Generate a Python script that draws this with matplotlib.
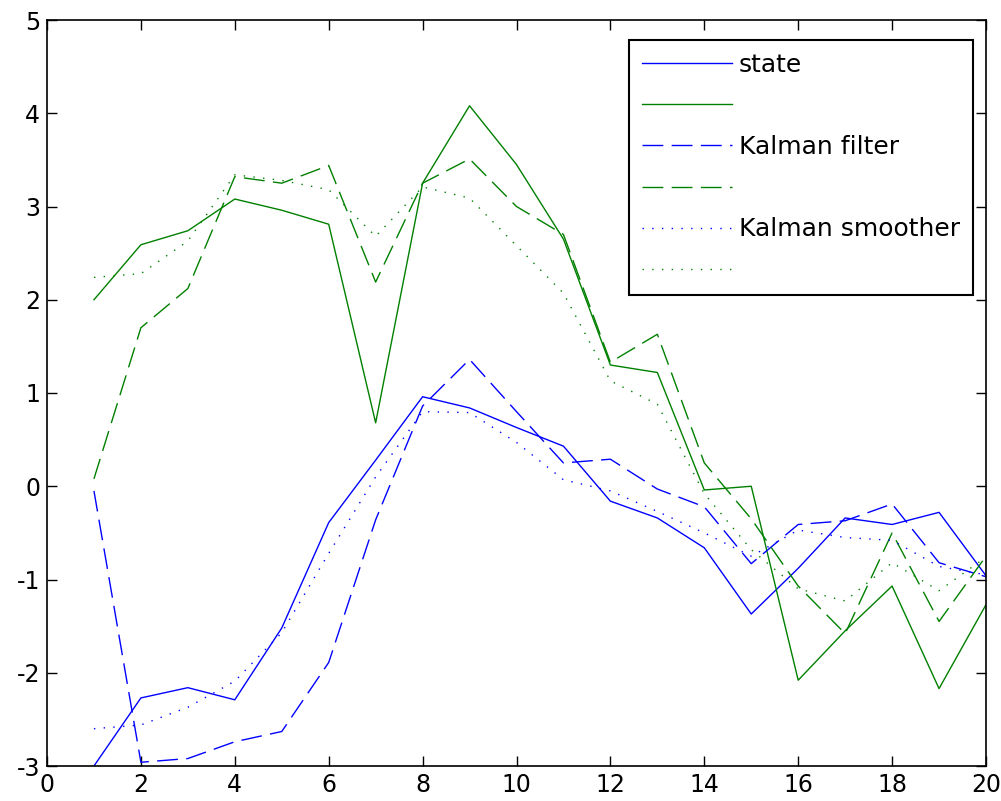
import numpy as np
import matplotlib
matplotlib.use('Agg')
import matplotlib.pyplot as plt

plt.rcParams['axes.unicode_minus'] = False

# time steps
t = list(range(1, 21))

# true state (two components)
state_x = [-3.0, -2.27, -2.16, -2.29, -1.52, -0.39, 0.28, 0.96, 0.84, 0.63,
           0.43, -0.16, -0.34, -0.66, -1.37, -0.88, -0.34, -0.41, -0.28, -0.96]
state_y = [2.0, 2.59, 2.74, 3.08, 2.96, 2.81, 0.68, 3.25, 4.08, 3.45,
           2.65, 1.3, 1.22, -0.04, 0.0, -2.08, -1.55, -1.07, -2.17, -1.27]

# filtered estimates
filt_x = [-0.05, -2.96, -2.92, -2.74, -2.63, -1.89, -0.36, 0.86, 1.36, 0.8,
          0.25, 0.29, -0.03, -0.22, -0.83, -0.41, -0.37, -0.19, -0.82, -0.97]
filt_y = [0.08, 1.7, 2.12, 3.32, 3.25, 3.44, 2.19, 3.25, 3.51, 3.0,
          2.7, 1.33, 1.63, 0.25, -0.35, -1.07, -1.58, -0.5, -1.45, -0.75]

# smoothed estimates
smooth_x = [-2.6, -2.56, -2.37, -2.09, -1.57, -0.72, 0.1, 0.8, 0.79, 0.47,
            0.07, -0.05, -0.27, -0.5, -0.75, -0.47, -0.55, -0.58, -0.86, -0.95]
smooth_y = [2.24, 2.28, 2.63, 3.34, 3.28, 3.18, 2.68, 3.21, 3.09, 2.58,
            2.07, 1.13, 0.88, -0.08, -0.68, -1.1, -1.23, -0.82, -1.12, -0.76]

blue = (0, 0, 1)
green = (0, 0.5, 0)

fig = plt.figure(figsize=(10.01, 8.01), dpi=100)
ax = fig.add_axes([47 / 1001, 1 - 766 / 801, (986 - 47) / 1001, (766 - 20) / 801])

lw = 1.0
h1, = ax.plot(t, state_x, color=blue, lw=lw)
h2, = ax.plot(t, state_y, color=green, lw=lw)
h3, = ax.plot(t, filt_x, color=blue, lw=lw, dashes=(15, 6))
h4, = ax.plot(t, filt_y, color=green, lw=lw, dashes=(15, 6))
h5, = ax.plot(t, smooth_x, color=blue, lw=lw, dashes=(1, 6))
h6, = ax.plot(t, smooth_y, color=green, lw=lw, dashes=(1, 6))

ax.set_xlim(0, 20)
ax.set_ylim(-3, 5)
ax.set_xticks(np.arange(0, 21, 2))
ax.set_yticks(np.arange(-3, 6, 1))
ax.tick_params(direction='in', top=True, right=True, length=7, width=1,
               labelsize=17, pad=5)
for s in ax.spines.values():
    s.set_linewidth(1.2)

leg = ax.legend([h1, h2, h3, h4, h5, h6],
                ['state', '', 'Kalman filter', '', 'Kalman smoother', ''],
                loc='upper left', bbox_to_anchor=(629 / 1001, 1 - 40 / 801),
                bbox_transform=fig.transFigure, fontsize=18,
                handlelength=3.6, handletextpad=0.3, labelspacing=0.69,
                borderpad=0.5, fancybox=False, framealpha=1,
                edgecolor='black', borderaxespad=0)
leg.get_frame().set_linewidth(1.5)

fig.savefig('out.png', dpi=100)
